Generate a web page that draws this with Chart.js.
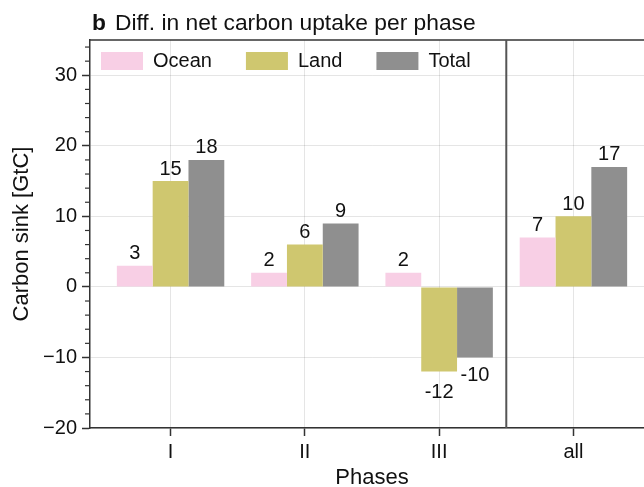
<!DOCTYPE html>
<html>
<head>
<meta charset="utf-8">
<title>Diff. in net carbon uptake per phase</title>
<script src="https://cdn.jsdelivr.net/npm/chart.js@4.4.1/dist/chart.umd.min.js"></script>
<style>
  html, body { margin: 0; padding: 0; background: #ffffff; overflow: hidden; }
  #wrap { width: 644px; height: 487px; overflow: hidden; }
  canvas { display: block; }
</style>
</head>
<body>
<div id="wrap"><canvas id="chart" width="656" height="487"></canvas></div>
<script>
// Phases on the x axis and the carbon-sink difference per phase (GtC)
const phases = ['I', 'II', 'III', 'all'];
const ocean = [3, 2, 2, 7];
const land = [15, 6, -12, 10];
const total = [18, 9, -10, 17];
const yTicks = [-20, -10, 0, 10, 20, 30];

const FONT = '"Liberation Sans", Arial, Helvetica, sans-serif';
const INK = '#111111';
const AXIS = '#333333';
const GRID = 'rgba(0,0,0,0.10)';

Chart.defaults.font.family = FONT;
Chart.defaults.color = INK;

// one bar per phase, placed at x = 1..4 on a linear axis
function points(values) {
  return values.map((v, i) => ({ x: i + 1, y: v }));
}

// panel title: bold panel letter followed by the heading
const panelTitle = {
  id: 'panelTitle',
  afterDraw(chart) {
    const ctx = chart.ctx;
    ctx.save();
    ctx.fillStyle = INK;
    ctx.textAlign = 'left';
    ctx.textBaseline = 'alphabetic';
    ctx.font = 'bold 22.8px ' + FONT;
    ctx.fillText('b', 92, 30);
    const w = ctx.measureText('b').width;
    ctx.font = '22.8px ' + FONT;
    ctx.fillText('Diff. in net carbon uptake per phase', 92 + w + 9, 30);
    ctx.restore();
  }
};

// top frame line, separator before the "all" group and minor y ticks
const frame = {
  id: 'frame',
  afterDraw(chart) {
    const { ctx, chartArea: a, scales: { x, y } } = chart;
    ctx.save();
    ctx.strokeStyle = AXIS;
    ctx.lineWidth = 1.5;
    ctx.beginPath();
    ctx.moveTo(a.left, a.top);
    ctx.lineTo(a.right, a.top);
    ctx.stroke();

    const sx = x.getPixelForValue(3.5);
    ctx.strokeStyle = '#555555';
    ctx.lineWidth = 2;
    ctx.beginPath();
    ctx.moveTo(sx, a.top);
    ctx.lineTo(sx, a.bottom);
    ctx.stroke();

    ctx.strokeStyle = AXIS;
    ctx.lineWidth = 1.2;
    for (let v = y.min + 2; v < y.max; v += 2) {
      if (v % 10 === 0) continue;
      const py = y.getPixelForValue(v);
      ctx.beginPath();
      ctx.moveTo(a.left - 5, py);
      ctx.lineTo(a.left, py);
      ctx.stroke();
    }
    ctx.restore();
  }
};

// value printed above positive bars, below negative ones
const valueLabels = {
  id: 'valueLabels',
  afterDraw(chart) {
    const { ctx, scales: { y } } = chart;
    ctx.save();
    ctx.font = '20px ' + FONT;
    ctx.fillStyle = INK;
    ctx.textAlign = 'center';
    ctx.textBaseline = 'middle';
    chart.data.datasets.forEach((ds, di) => {
      chart.getDatasetMeta(di).data.forEach((bar, i) => {
        const v = ds.data[i].y;
        const ty = v >= 0 ? bar.y - 12 : y.getPixelForValue(v * 1.25);
        ctx.fillText(String(Math.round(v)), bar.x, ty);
      });
    });
    ctx.restore();
  }
};

// the legend row reserves the band above the plot, then is drawn
// inside the upper-left corner of the plot
const legendCorner = {
  id: 'legendCorner',
  afterLayout(chart) {
    const lg = chart.legend;
    if (!lg) return;
    const a = chart.chartArea;
    lg.left = a.left - 23;
    lg.right = a.right;
    lg.top = a.top - 23;
    lg.bottom = a.top + 60;
    lg.width = lg.right - lg.left;
    lg.height = lg.bottom - lg.top;
  }
};

const tickFont = { size: 20, family: FONT };

new Chart(document.getElementById('chart'), {
  type: 'bar',
  data: {
    datasets: [
      { label: 'Ocean', data: points(ocean), backgroundColor: '#f8cfe5' },
      { label: 'Land', data: points(land), backgroundColor: '#cfc76f' },
      { label: 'Total', data: points(total), backgroundColor: '#8f8f8f' }
    ]
  },
  options: {
    responsive: false,
    animation: false,
    devicePixelRatio: 1,
    layout: { padding: { top: 0, right: 2, bottom: 0, left: 0 } },
    datasets: {
      bar: { categoryPercentage: 0.8, barPercentage: 1.0, borderWidth: 0 }
    },
    plugins: {
      title: { display: false },
      tooltip: { enabled: false },
      legend: {
        position: 'top',
        align: 'start',
        maxHeight: 40,
        labels: {
          boxWidth: 42,
          boxHeight: 18,
          padding: 34,
          color: INK,
          font: { size: 20, family: FONT }
        }
      }
    },
    scales: {
      x: {
        type: 'linear',
        min: 0.4,
        max: 4.6,
        offset: false,
        z: 1,
        afterBuildTicks: s => { s.ticks = phases.map((p, i) => ({ value: i + 1 })); },
        afterFit: s => { s.height = 59; },
        ticks: {
          callback: v => phases[v - 1] ?? '',
          font: tickFont,
          color: INK,
          padding: 4,
          maxRotation: 0,
          autoSkip: false
        },
        grid: { color: GRID, lineWidth: 1, offset: false, tickLength: 8, tickColor: AXIS, tickWidth: 1.5 },
        border: { color: AXIS, width: 1.5 },
        title: {
          display: true,
          text: 'Phases',
          color: INK,
          font: { size: 22, family: FONT, lineHeight: 0.86 },
          padding: 0
        }
      },
      y: {
        type: 'linear',
        min: -20,
        max: 35,
        z: 1,
        afterBuildTicks: s => { s.ticks = yTicks.map(v => ({ value: v })); },
        afterFit: s => { s.width = 90; },
        ticks: {
          callback: v => (v < 0 ? '\u2212' + Math.abs(v) : String(v)),
          font: tickFont,
          color: INK,
          padding: 5
        },
        grid: { color: GRID, lineWidth: 1, tickLength: 8, tickColor: AXIS, tickWidth: 1.5 },
        border: { color: AXIS, width: 1.5 },
        title: {
          display: true,
          text: 'Carbon sink [GtC]',
          color: INK,
          font: { size: 22, family: FONT, lineHeight: 1.2 },
          padding: { top: 9, bottom: 0 }
        }
      }
    }
  },
  plugins: [legendCorner, frame, valueLabels, panelTitle]
});
</script>
</body>
</html>
